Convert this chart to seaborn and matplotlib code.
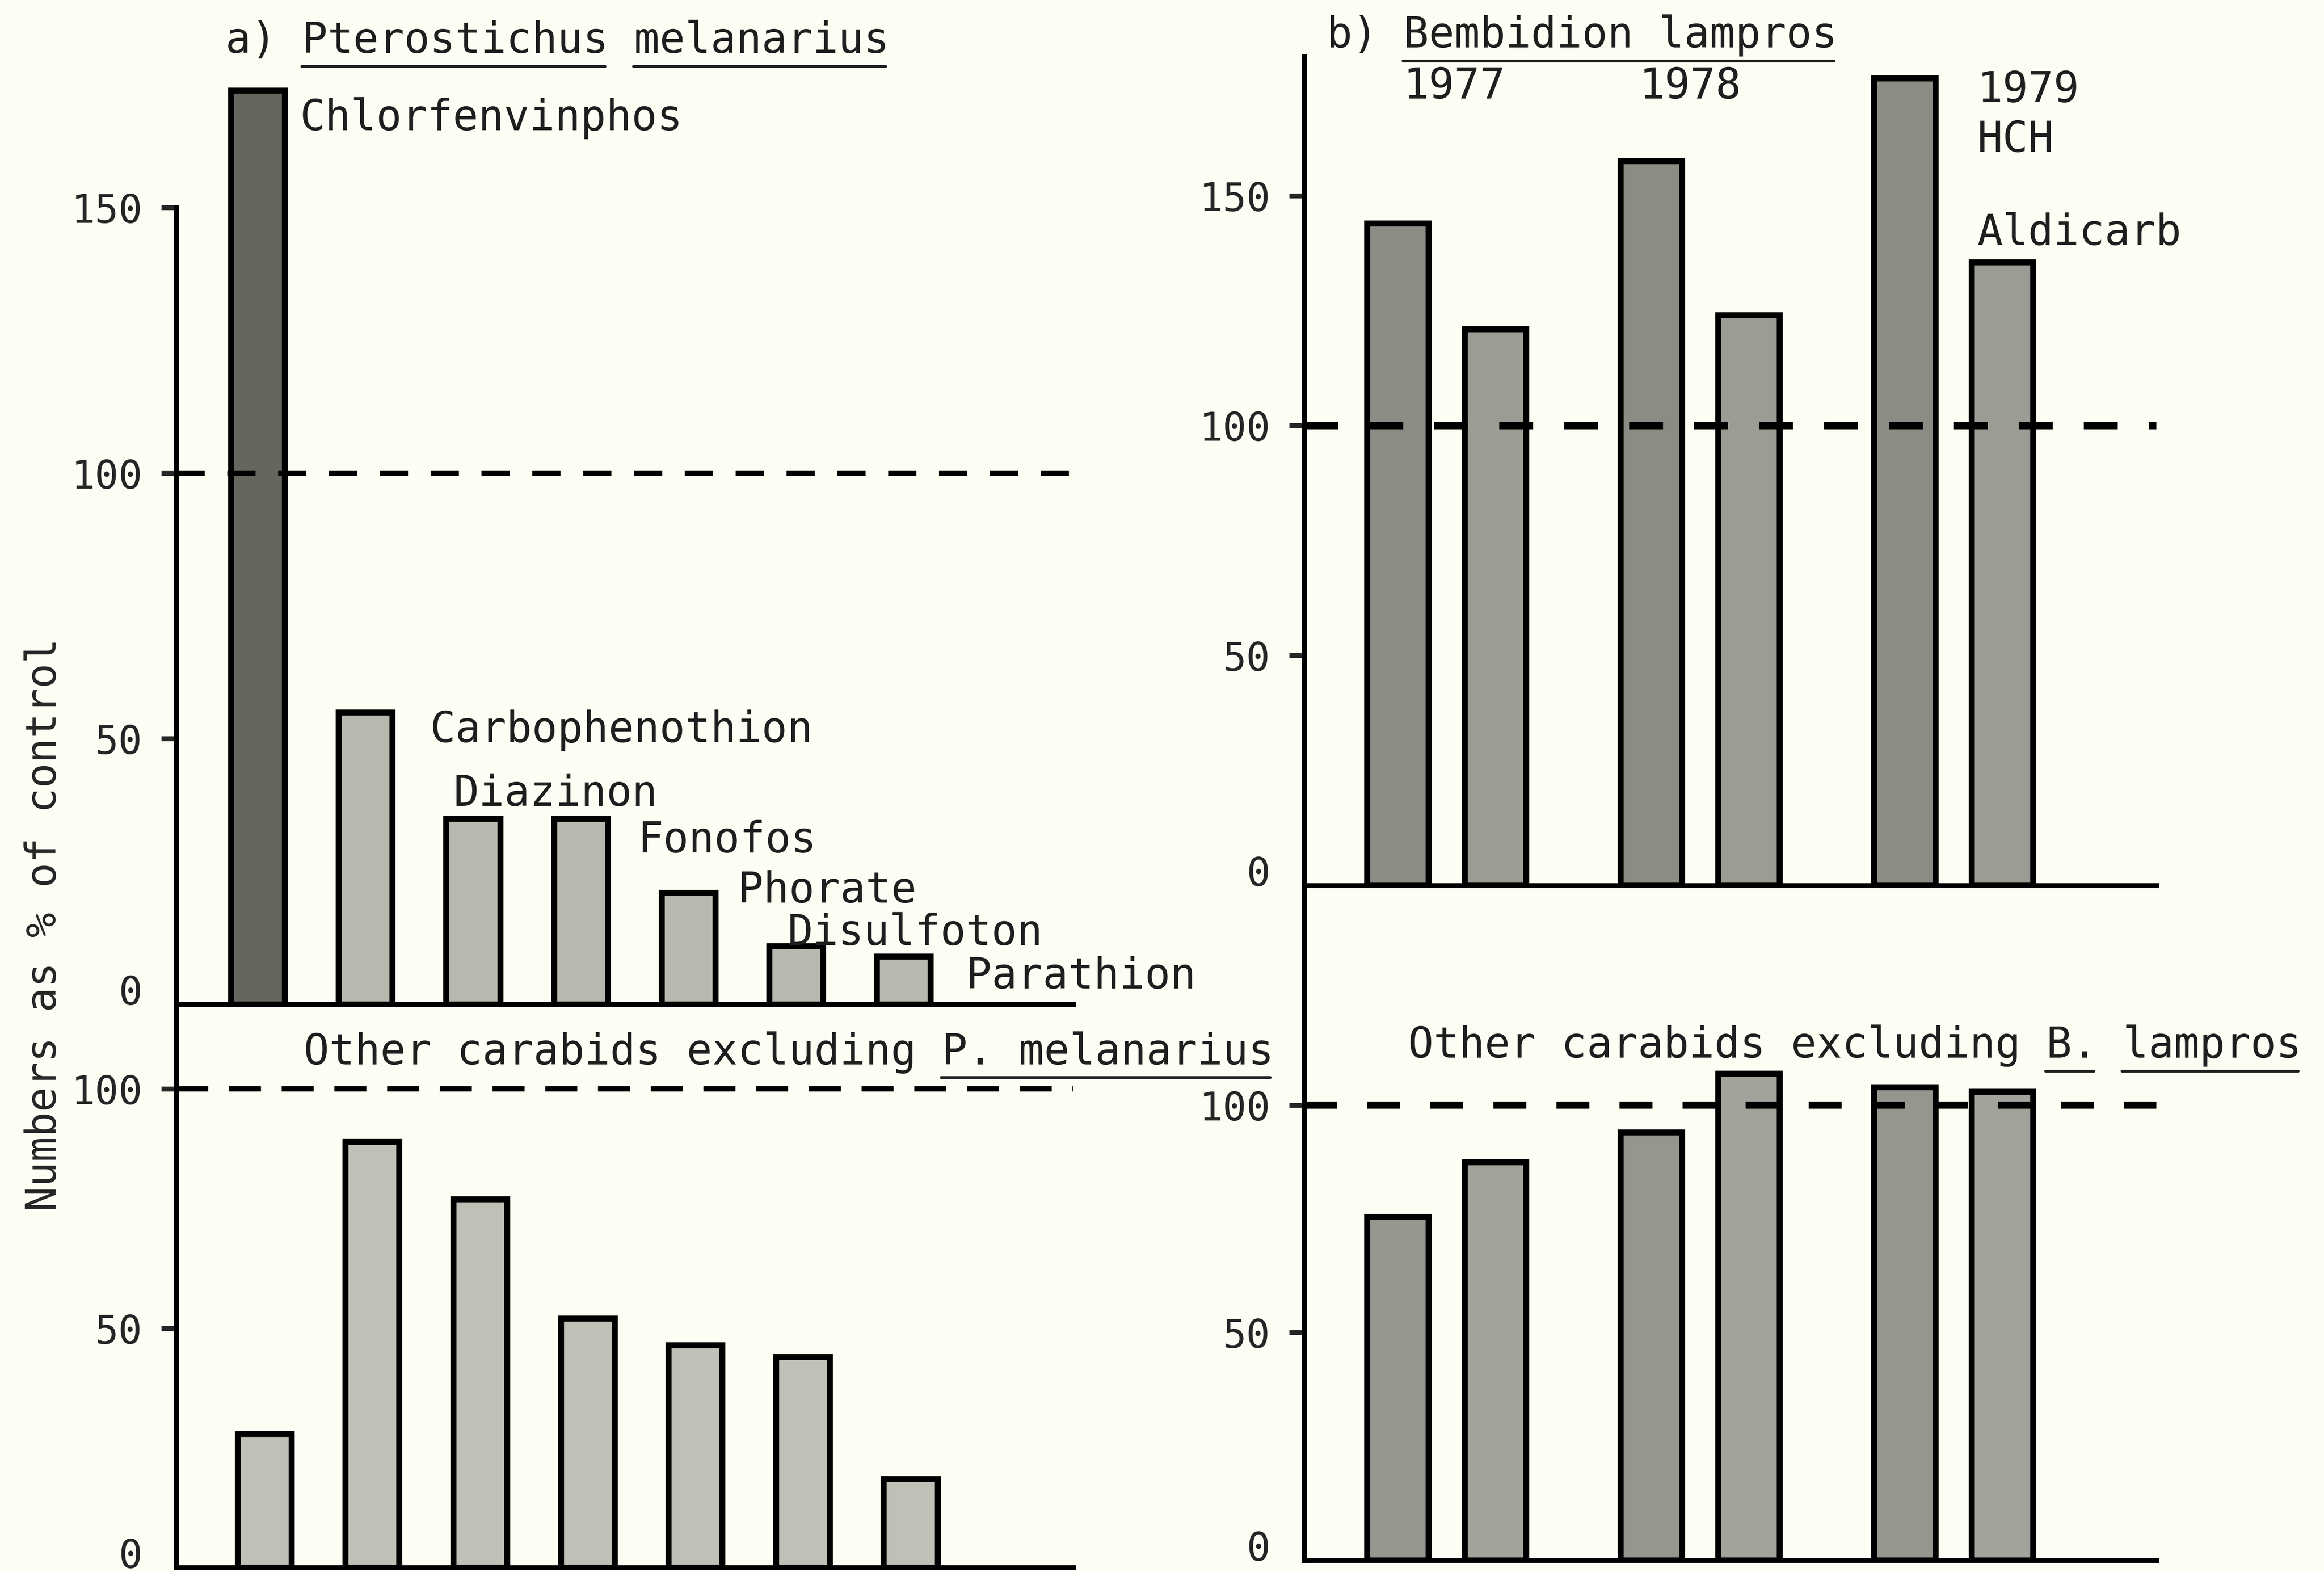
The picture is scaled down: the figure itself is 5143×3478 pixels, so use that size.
import matplotlib
matplotlib.use("Agg")
import matplotlib.pyplot as plt
import pandas as pd
import seaborn as sns
from matplotlib.lines import Line2D

# ---------------- data (numbers as % of control) ----------------
insecticides = ["Chlorfenvinphos", "Carbophenothion", "Diazinon", "Fonofos",
                "Phorate", "Disulfoton", "Parathion"]
melanarius_pct = [172, 55, 35, 35, 21, 11, 9]
other_carabids_a_pct = [28, 89, 77, 52, 46.5, 44, 18.5]

years = ["1977", "1978", "1979"]
treatments = ["HCH", "Aldicarb"]
lampros_hch_pct = [144, 157.5, 175.5]
lampros_aldicarb_pct = [121, 124, 135.5]
other_carabids_b_hch_pct = [75.5, 94, 104]
other_carabids_b_aldicarb_pct = [87.5, 107, 103]

ticks_upper = [0, 50, 100, 150]
ticks_lower = [0, 50, 100]

# ---------------- style ----------------
sns.set_style("ticks")
BG = "#fdfdf4"
INK = "#1e1e1e"
FONT = "DejaVu Sans Mono"
plt.rcParams["font.family"] = [FONT, "DejaVu Sans"]
plt.rcParams["text.color"] = INK
ADV = 0.602          # advance width of a DejaVu Sans Mono glyph, in em
TXT = 22.5           # annotation size (pt)
TICK = 21            # tick-label size (pt)
LW = 2.6             # axis line width (pt)

W, H = 1568.0, 1061.0   # layout grid used to place the panels
fig = plt.figure(figsize=(5143 / 300, 3479 / 300), dpi=300, facecolor=BG)


def box(x0, x1, y_top, y_bottom):
    return [x0 / W, 1 - y_bottom / H, (x1 - x0) / W, (y_bottom - y_top) / H]


ax_a1 = fig.add_axes(box(119, 724, 50.6, 678.0))
ax_a2 = fig.add_axes(box(119, 724, 678.0, 1058.0))
ax_b1 = fig.add_axes(box(880, 1455, 38.5, 597.7))
ax_b2 = fig.add_axes(box(880, 1455, 597.7, 1053.0))

bar_kw = dict(edgecolor="black", linewidth=3.2, saturation=1, legend=False,
              errorbar=None)

# ---- a) Pterostichus melanarius ----
df_a1 = pd.DataFrame({"insecticide": insecticides, "pct": melanarius_pct})
shade_a1 = ["#66665f"] + ["#b8b8ae"] * 6
sns.barplot(data=df_a1, x="insecticide", y="pct", hue="insecticide",
            palette=shade_a1, width=0.5, ax=ax_a1, **bar_kw)

df_a2 = pd.DataFrame({"insecticide": insecticides, "pct": other_carabids_a_pct})
sns.barplot(data=df_a2, x="insecticide", y="pct", hue="insecticide",
            palette=["#c0c0b6"] * 7, width=0.5, ax=ax_a2, **bar_kw)

# ---- b) Bembidion lampros ----
df_b1 = pd.DataFrame({"year": years * 2,
                      "treatment": [treatments[0]] * 3 + [treatments[1]] * 3,
                      "pct": lampros_hch_pct + lampros_aldicarb_pct})
sns.barplot(data=df_b1, x="year", y="pct", hue="treatment", hue_order=treatments,
            palette=["#8c8c85", "#9c9c95"], width=0.77, gap=0.37, ax=ax_b1,
            **bar_kw)

df_b2 = pd.DataFrame({"year": years * 2,
                      "treatment": [treatments[0]] * 3 + [treatments[1]] * 3,
                      "pct": other_carabids_b_hch_pct + other_carabids_b_aldicarb_pct})
sns.barplot(data=df_b2, x="year", y="pct", hue="treatment", hue_order=treatments,
            palette=["#96968f", "#a3a39c"], width=0.77, gap=0.37, ax=ax_b2,
            **bar_kw)


def style_axis(ax, xlim, ylim, ticks):
    ax.set_xlim(*xlim)
    ax.set_ylim(*ylim)
    ax.set_facecolor("none")
    for s in ("top", "right"):
        ax.spines[s].set_visible(False)
    for s in ("left", "bottom"):
        ax.spines[s].set_linewidth(LW)
        ax.spines[s].set_color("black")
    ax.set_yticks(ticks)
    ax.set_yticklabels([str(t) for t in ticks], fontsize=TICK, family=FONT,
                       color="#252525")
    ax.tick_params(axis="y", direction="out", length=8, width=LW, pad=10)
    ax.tick_params(axis="x", bottom=False, labelbottom=False)
    ax.set_xlabel("")
    ax.set_ylabel("")
    zero = ax.yaxis.get_major_ticks()[0]
    zero.tick1line.set_visible(False)
    zero.label1.set_verticalalignment("baseline")   # "0" sits on the baseline


style_axis(ax_a1, (-0.758, 7.576), (0, 175), ticks_upper)
ax_a1.spines["left"].set_bounds(0, 150)
style_axis(ax_a2, (-0.82, 7.51), (0, 117.65), ticks_lower)
style_axis(ax_b1, (-0.561, 2.801), (0, 180.2), ticks_upper)
style_axis(ax_b2, (-0.561, 2.801), (0, 148.3), ticks_lower)

# 100 % of control reference lines
for ax, lw, on, off in ((ax_a1, 2.7, 15.0, 12.0), (ax_a2, 2.8, 17.0, 11.0),
                        (ax_b1, 4.0, 18.0, 16.5), (ax_b2, 3.8, 17.5, 16.0)):
    ax.axhline(100, color="black", lw=lw, dashes=(on / lw, off / lw), zorder=5)

# insecticide names beside their bars
name_dx = [0.39, 0.60, -0.18, 0.53, 0.46, -0.08, 0.58]
name_dy = [-7.4, -5.6, 2.4, -6.3, -1.8, 0.2, -5.9]
for i, (name, v) in enumerate(zip(insecticides, melanarius_pct)):
    ax_a1.text(i + name_dx[i], v + name_dy[i], name, ha="left", va="baseline",
               fontsize=TXT, clip_on=False)

# years and treatments for B. lampros
year_x = [-0.17, 0.76, 2.094]
year_y = [171.2, 171.2, 170.4]
for x, y, lab in zip(year_x, year_y, years):
    ax_b1.text(x, y, lab, ha="left", va="baseline", fontsize=TXT, clip_on=False)
ax_b1.text(2.094, 159.6, treatments[0], ha="left", va="baseline", fontsize=TXT,
           clip_on=False)
ax_b1.text(2.094, 139.4, treatments[1], ha="left", va="baseline", fontsize=TXT,
           clip_on=False)

# panel headings
t_a = fig.text(152 / W, 1 - 35.6 / H, "a) Pterostichus melanarius",
               ha="left", va="baseline", fontsize=TXT)
t_b = fig.text(895 / W, 1 - 32.0 / H, "b) Bembidion lampros",
               ha="left", va="baseline", fontsize=TXT)
t_a2 = fig.text(205 / W, 1 - 718.0 / H, "Other carabids excluding P. melanarius",
                ha="left", va="baseline", fontsize=TXT)
t_b2 = fig.text(950 / W, 1 - 713.5 / H, "Other carabids excluding B. lampros",
                ha="left", va="baseline", fontsize=TXT)
fig.text(30 / W, 1 - 624 / H, "Numbers as % of control", rotation=90,
         ha="center", va="center", fontsize=22, color="#252525")

# underline the Latin names (character spans of the monospaced headings)
fig.canvas.draw()
renderer = fig.canvas.get_renderer()
to_fig = fig.transFigure.inverted()


def underline(t, spans, drop=31.0, lw=1.5):
    bb = t.get_window_extent(renderer)
    cw = ADV * t.get_fontsize() * fig.dpi / 72.0
    base = t.get_transform().transform(t.get_position())[1]
    for a, b in spans:
        x0 = bb.x0 + a * cw
        x1 = bb.x0 + b * cw - 0.1 * cw
        (fx0, fy), (fx1, _) = to_fig.transform([(x0, base - drop), (x1, base - drop)])
        fig.add_artist(Line2D([fx0, fx1], [fy, fy], transform=fig.transFigure,
                              color="#222222", lw=lw))


underline(t_a, [(3, 15), (16, 26)])
underline(t_b, [(3, 20)])
underline(t_a2, [(25, 38)])
underline(t_b2, [(25, 27), (28, 35)])

fig.savefig("out.png", dpi=300, facecolor=BG)
